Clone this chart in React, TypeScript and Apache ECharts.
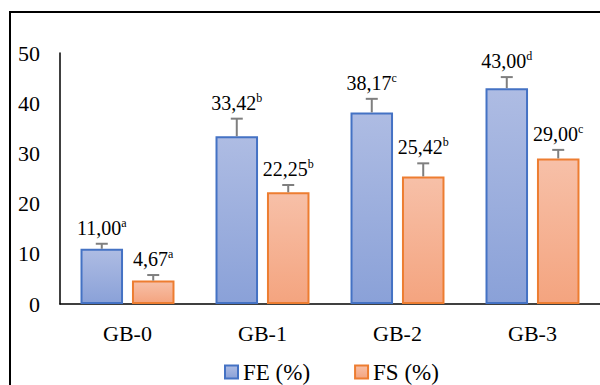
import React, { useEffect, useRef } from "react";
import * as echarts from "echarts";

const categories = ["GB-0", "GB-1", "GB-2", "GB-3"];
const feValues = [11.0, 33.42, 38.17, 43.0];
const fsValues = [4.67, 22.25, 25.42, 29.0];
const feErrors = [1.0, 3.5, 2.7, 2.2];
const fsErrors = [1.1, 1.45, 2.6, 1.7];
const feLetters = ["a", "b", "c", "d"];
const fsLetters = ["a", "b", "b", "c"];
const yTicks = { min: 0, max: 50, interval: 10 };

const FONT = "Liberation Serif";
const BAR_W = 0.315; // fraction of band
const GAP = 0.21; // fraction of bar width

function errSeries(name: string, values: number[], errs: number[], letters: string[], side: number) {
  return {
    type: "custom",
    name: name + "-err",
    z: 10,
    clip: false,
    silent: true,
    encode: { x: 0, y: 1 },
    data: values.map((v, i) => [i, v, errs[i]]),
    renderItem: (params: any, api: any) => {
      const i = api.value(0);
      const v = api.value(1);
      const e = api.value(2);
      const letter = letters[params.dataIndex];
      const band = api.size([1, 0])[0];
      const off = (side * band * BAR_W * (1 + GAP)) / 2;
      const base = api.coord([i, v]);
      const top = api.coord([i, v + e]);
      const x = base[0] + off;
      const txt = v.toFixed(2).replace(".", ",");
      return {
        type: "group",
        children: [
          {
            type: "line",
            shape: { x1: x, y1: base[1], x2: x, y2: top[1] },
            style: { stroke: "#7f7f7f", lineWidth: 2 },
          },
          {
            type: "line",
            shape: { x1: x - 6, y1: top[1], x2: x + 6, y2: top[1] },
            style: { stroke: "#7f7f7f", lineWidth: 2 },
          },
          {
            type: "text",
            x: x,
            y: top[1] - 5,
            style: {
              text: "{v|" + txt + "}{s|" + letter + "}",
              align: "center",
              verticalAlign: "bottom",
              fill: "#000",
              rich: {
                v: { fontFamily: FONT, fontSize: 20, fill: "#000", lineHeight: 22 },
                s: { fontFamily: FONT, fontSize: 12, fill: "#000", verticalAlign: "top", lineHeight: 22 },
              },
            },
          },
        ],
      };
    },
  };
}

export default function App() {
  const ref = useRef<HTMLDivElement>(null);
  useEffect(() => {
    if (!ref.current) return;
    const chart = echarts.init(ref.current, null, { renderer: "svg" });
    const feGrad = new echarts.graphic.LinearGradient(0, 0, 0, 1, [
      { offset: 0, color: "#aebce3" },
      { offset: 1, color: "#8aa1d8" },
    ]);
    const fsGrad = new echarts.graphic.LinearGradient(0, 0, 0, 1, [
      { offset: 0, color: "#f7c0a8" },
      { offset: 1, color: "#f4a47f" },
    ]);
    chart.setOption({
      animation: false,
      backgroundColor: "#ffffff",
      textStyle: { fontFamily: FONT },
      graphic: [
        {
          type: "rect",
          shape: { x: 10, y: 12, width: 700, height: 500 },
          style: { fill: "none", stroke: "#000", lineWidth: 2 },
          silent: true,
        },
      ],
      legend: {
        data: ["FE (%)", "FS (%)"],
        left: 224,
        top: 360,
        padding: 0,
        icon: "rect",
        itemWidth: 13,
        itemHeight: 13,
        itemGap: 44,
        textStyle: { fontFamily: FONT, fontSize: 23, color: "#000", lineHeight: 24 },
      },
      grid: { left: 60, top: 53, height: 251, width: 546 },
      xAxis: {
        type: "category",
        data: categories,
        axisLine: { lineStyle: { color: "#000", width: 1.5 } },
        axisTick: { show: false },
        axisLabel: { color: "#000", fontFamily: FONT, fontSize: 22, margin: 18 },
      },
      yAxis: {
        type: "value",
        min: yTicks.min,
        max: yTicks.max,
        interval: yTicks.interval,
        axisLine: { show: true, lineStyle: { color: "#000", width: 1.5 } },
        axisTick: { show: false },
        splitLine: { show: false },
        axisLabel: { color: "#000", fontFamily: FONT, fontSize: 22, margin: 20 },
      },
      series: [
        {
          type: "bar",
          name: "FE (%)",
          data: feValues,
          barWidth: BAR_W * 100 + "%",
          barGap: GAP * 100 + "%",
          itemStyle: { color: feGrad, borderColor: "#4472c4", borderWidth: 2 },
        },
        {
          type: "bar",
          name: "FS (%)",
          data: fsValues,
          barWidth: BAR_W * 100 + "%",
          barGap: GAP * 100 + "%",
          itemStyle: { color: fsGrad, borderColor: "#ed7d31", borderWidth: 2 },
        },
        errSeries("FE", feValues, feErrors, feLetters, -1),
        errSeries("FS", fsValues, fsErrors, fsLetters, 1),
      ],
    });
    return () => chart.dispose();
  }, []);
  return (
    <div
      ref={ref}
      style={{ position: "fixed", left: 0, top: 0, width: 600, height: 385, background: "#fff" }}
    />
  );
}
